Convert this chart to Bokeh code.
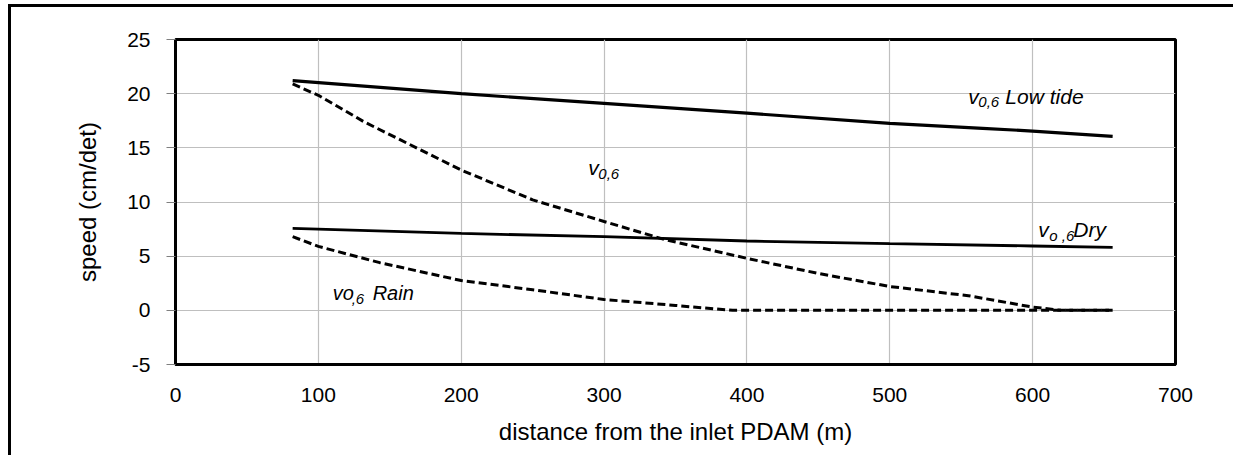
from bokeh.plotting import figure
from bokeh.models import Label, FixedTicker, Range1d, PrintfTickFormatter
from bokeh.embed import file_html
from bokeh.resources import INLINE

# ---- data ----
low_tide_x = [82, 200, 300, 400, 500, 565, 600, 656]
low_tide_y = [21.2, 20.0, 19.1, 18.2, 17.25, 16.8, 16.55, 16.05]

dry_x = [82, 200, 300, 400, 500, 600, 656]
dry_y = [7.57, 7.1, 6.8, 6.4, 6.15, 5.94, 5.82]

v06_x = [82, 100, 132, 200, 250, 300, 342, 400, 450, 500, 555, 600, 620, 656]
v06_y = [20.9, 19.85, 17.4, 12.95, 10.2, 8.2, 6.55, 4.8, 3.4, 2.2, 1.35, 0.3, 0.0, 0.0]

rain_x = [82, 100, 143, 200, 250, 300, 350, 390, 656]
rain_y = [6.8, 5.9, 4.4, 2.75, 1.9, 1.0, 0.45, 0.0, 0.0]

x_ticks = [0, 100, 200, 300, 400, 500, 600, 700]
y_ticks = [-5, 0, 5, 10, 15, 20, 25]

x_title = "distance from the inlet PDAM (m)"
y_title = "speed (cm/det)"

FONT = "Liberation Sans"

p = figure(width=1225, height=451, output_backend="svg", toolbar_location=None,
           x_range=Range1d(0, 700), y_range=Range1d(-5, 25),
           min_border_left=164, min_border_right=61, min_border_top=32,
           min_border_bottom=94)
p.styles = {"border-left": "3px solid black", "border-top": "3px solid black",
            "margin-left": "8px", "margin-top": "4px"}

p.outline_line_color = "black"
p.outline_line_width = 3
p.background_fill_color = "white"
p.border_fill_color = "white"

p.xgrid.grid_line_color = "#bfbfbf"
p.ygrid.grid_line_color = "#bfbfbf"
p.xgrid.grid_line_width = 1.2
p.ygrid.grid_line_width = 1.2

p.xaxis.ticker = FixedTicker(ticks=x_ticks)
p.yaxis.ticker = FixedTicker(ticks=y_ticks)
p.xaxis.formatter = PrintfTickFormatter(format="%d")
p.yaxis.formatter = PrintfTickFormatter(format="%d")
p.xaxis.minor_tick_line_color = None
p.yaxis.minor_tick_line_color = None
p.xaxis.major_tick_out = 0
p.xaxis.major_tick_in = 0
p.yaxis.major_tick_out = 9
p.yaxis.major_tick_in = 0
p.yaxis.major_tick_line_color = "#7f7f7f"
for ax in (p.xaxis, p.yaxis):
    ax.axis_line_color = "black"
    ax.axis_line_width = 3
    ax.major_label_text_font = FONT
    ax.major_label_text_font_size = "21px"
    ax.major_label_text_color = "black"
    ax.axis_label_text_font = FONT
    ax.axis_label_text_font_size = "24px"
    ax.axis_label_text_font_style = "normal"
    ax.axis_label_text_color = "black"
p.xaxis.major_label_standoff = 23
p.yaxis.major_label_standoff = 16
p.xaxis.axis_label = x_title
p.yaxis.axis_label = y_title
p.xaxis.axis_label_standoff = 13
p.yaxis.axis_label_standoff = 23

p.line(low_tide_x, low_tide_y, line_color="black", line_width=3.2)
p.line(dry_x, dry_y, line_color="black", line_width=2.8)
p.line(v06_x, v06_y, line_color="black", line_width=3, line_dash="8 4")
p.line(rain_x, rain_y, line_color="black", line_width=3, line_dash="8 4")


def add_label(x, y, parts):
    for text, dx, dy, size in parts:
        p.add_layout(Label(x=x, y=y, text=text, x_offset=dx, y_offset=dy,
                           text_font=FONT, text_font_style="italic",
                           text_font_size=size, text_color="black",
                           text_baseline="alphabetic", text_align="left"))


add_label(555, 19.75, [("v", 0, 0, "21px"), ("0,6", 10, -6, "15px"), ("Low tide", 37, 0, "21px")])
add_label(289, 13.15, [("v", 0, 0, "21px"), ("0,6", 10, -6, "15px")])
add_label(604, 7.45, [("v", 0, 0, "21px"), ("o ,6", 11, -6, "15px"), ("Dry", 35, 0, "21px")])
add_label(110, 1.62, [("vo", 0, 0, "20px"), (",6", 19, -6, "15px"), ("Rain", 40, 0, "20px")])

open("out.html", "w").write(file_html(p, INLINE))
